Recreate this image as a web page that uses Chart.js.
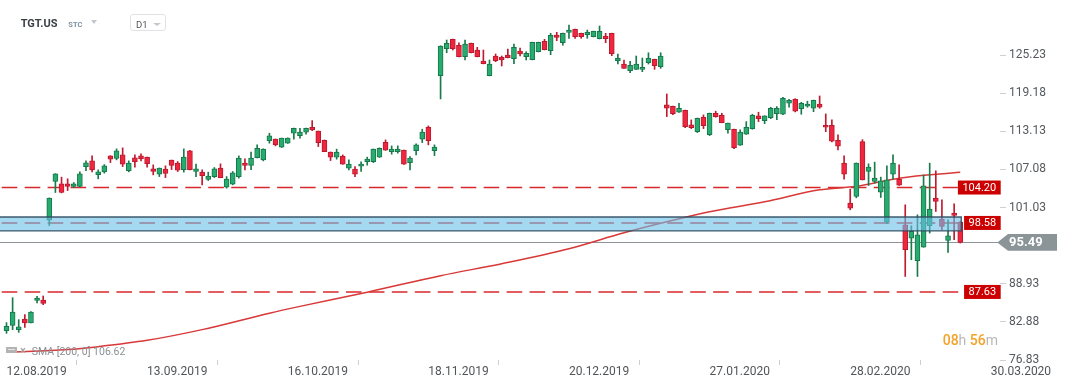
<!DOCTYPE html>
<html><head><meta charset="utf-8">
<script src="https://cdn.jsdelivr.net/npm/chart.js@4.4.1/dist/chart.umd.min.js"></script>
<style>
html,body{margin:0;padding:0;background:#fff;}
#wrap{position:relative;width:1069px;height:386px;overflow:hidden;font-family:Roboto,'Liberation Sans',sans-serif;}
#c{position:absolute;left:0;top:0;}
.t{position:absolute;white-space:nowrap;}
.sym{left:20.7px;top:17.9px;font-weight:bold;font-size:11px;line-height:11px;color:#3b4046;}
.stc{left:68.3px;top:20.7px;font-size:7.5px;line-height:7.5px;color:#7d91a5;font-weight:bold;}
.tri{position:absolute;width:0;height:0;border-left:3.5px solid transparent;border-right:3.5px solid transparent;border-top:4px solid #c5c8cb;}
.d1{position:absolute;left:130px;top:14px;width:36px;height:17px;border:1px solid #dfe2e5;border-radius:3px;box-sizing:border-box;}
.d1t{left:136px;top:19.5px;font-size:9.5px;line-height:9.5px;color:#555;}
.leg{left:31.7px;top:347px;font-size:10.5px;line-height:10.5px;color:#8b9094;}
.icon{position:absolute;left:6px;top:347px;width:11px;height:6px;background:#b3b3b3;}
.icon:after{content:'';position:absolute;left:2px;top:2px;width:7px;height:1px;background:#e8e8e8;}
.x{left:20px;top:345px;font-size:11px;line-height:11px;color:#a3a3a3;font-weight:bold;}
.timer{left:942.7px;top:333.2px;font-size:14px;line-height:14px;}
.timer .o{color:#f5a229;font-weight:500;}
.timer .g{color:#b8b8b8;}
</style></head>
<body>
<div id="wrap">
<canvas id="c" width="1069" height="386"></canvas>
<div class="t sym">TGT.US</div>
<div class="t stc">STC</div>
<div class="tri" style="left:90.7px;top:20px;"></div>
<div class="d1"></div>
<div class="t d1t">D1</div>
<div class="tri" style="left:152.7px;top:22.5px;border-left-width:4px;border-right-width:4px;border-top-width:3.5px;"></div>
<div class="icon"></div>
<div class="t x">×</div>
<div class="t leg" id="leg">SMA [200, 0] 106.62</div>
<div class="t timer"><span class="o">08</span><span class="g">h</span> <span class="o">56</span><span class="g">m</span></div>
</div>
<script>
const dateLabels = ['12.08.2019','13.09.2019','16.10.2019','18.11.2019','20.12.2019','27.01.2020','28.02.2020','30.03.2020'];
const tickIdx = [0,23,46,69,92,115,138,161];
const yTicks = [76.83,82.88,88.93,101.03,107.08,113.13,119.18,125.23];

const opens = [81.49,82.33,81.65,83.34,82.71,86.29,86.35,99.03,105.15,104.79,
104.79,104.36,104.36,107.53,108.43,106.26,106.69,109.22,108.80,109.38,
106.89,108.91,109.22,109.02,107.16,106.32,107.12,108.54,108.07,107.05,
110.02,106.74,106.64,105.47,105.94,107.27,104.26,104.74,105.94,108.07,
107.69,108.95,108.59,111.65,111.87,110.60,111.24,112.82,112.44,112.98,
113.77,113.14,111.71,109.81,109.02,109.18,107.27,107.12,107.59,108.32,
108.32,109.02,111.39,109.91,109.91,110.13,108.16,110.06,111.87,113.77,
110.06,121.95,126.23,127.72,126.77,124.96,127.08,126.02,124.28,121.95,
125.07,124.87,125.23,124.64,125.86,124.96,124.49,125.75,127.40,125.91,
128.40,127.18,128.83,129.30,128.67,128.45,128.13,127.81,128.24,128.67,
124.33,123.80,122.74,122.96,122.96,124.01,124.55,123.38,117.31,117.10,
116.15,116.47,114.14,113.07,115.36,112.60,115.99,115.67,113.39,113.45,
110.92,112.66,113.55,115.56,114.82,115.29,115.93,115.83,117.58,118.21,
116.72,117.10,116.78,117.46,114.09,114.09,111.71,108.07,101.73,102.77,
111.49,106.74,105.15,103.47,98.72,106.32,105.53,98.29,96.18,92.58,
94.75,98.13,102.52,99.19,95.80,100.14,98.72];
const highs = [82.76,86.72,83.23,84.03,84.50,86.92,86.99,102.55,106.40,105.85,
105.58,104.99,106.69,108.43,109.22,107.00,107.84,109.25,110.33,110.49,
108.43,109.38,109.54,109.05,107.80,107.30,107.64,108.56,108.32,110.33,
110.10,107.91,107.00,106.64,107.37,107.96,105.94,106.74,109.22,108.75,
109.81,110.97,110.35,112.82,111.90,112.05,112.08,113.65,113.61,113.65,
114.82,113.17,111.75,109.84,110.29,109.38,108.59,107.53,108.27,109.02,
110.32,110.50,111.76,110.81,110.81,110.16,109.12,111.13,113.45,113.98,
110.97,126.70,127.61,127.75,127.18,127.61,127.12,126.45,126.02,124.44,
125.39,125.07,126.18,126.97,126.34,125.75,127.27,127.27,127.72,128.67,
128.83,128.70,129.98,129.33,128.70,129.19,129.02,129.83,128.67,128.70,
125.39,124.44,124.23,125.07,124.75,125.59,124.58,125.59,119.05,117.13,
117.58,116.50,114.93,115.23,115.72,116.02,116.31,115.99,114.44,113.48,
113.34,114.66,115.83,116.15,115.59,116.94,117.04,118.53,118.21,118.30,
117.73,117.89,118.08,118.73,115.88,114.93,112.55,109.22,103.95,108.10,
111.80,107.96,108.23,105.85,107.64,109.38,107.80,101.46,98.13,99.87,
106.21,108.07,106.85,102.25,99.08,101.62,98.80];
const lows = [81.06,81.65,81.22,81.99,82.70,85.88,85.61,98.18,103.41,103.35,
103.72,104.20,104.30,106.89,106.69,105.58,106.48,108.16,108.59,107.53,
106.69,107.43,108.43,107.43,106.21,105.94,105.78,107.05,106.74,106.64,
107.00,105.94,104.63,105.31,105.78,105.75,104.10,104.63,105.69,107.00,
107.05,108.90,108.43,111.24,110.81,110.55,111.20,111.87,112.03,112.66,
113.23,110.70,109.88,108.48,108.70,107.88,107.00,105.94,106.74,107.75,
108.16,108.98,110.10,109.49,109.65,107.88,107.00,109.38,111.33,110.97,
109.27,118.26,125.59,126.02,124.93,124.44,125.55,124.93,123.82,121.92,
124.17,123.49,124.77,123.85,125.07,124.44,124.46,125.72,126.04,125.28,
127.50,126.81,127.88,127.88,127.88,127.88,128.10,127.78,127.18,125.12,
123.80,123.09,122.43,122.93,122.58,123.80,122.96,123.12,115.45,115.77,
116.12,113.71,113.55,112.92,113.55,112.44,115.36,114.47,112.82,110.38,
110.89,112.63,113.45,114.66,114.34,115.13,114.98,115.77,116.94,116.20,
115.83,116.94,116.24,116.78,113.07,111.44,110.17,105.53,100.67,102.57,
105.40,104.52,104.90,102.62,98.45,105.53,104.55,90.09,92.74,90.09,
94.72,96.97,100.40,97.50,93.90,95.91,95.39];
const closes = [82.17,84.45,82.08,82.71,84.45,86.67,85.82,102.52,106.37,103.41,
104.36,104.79,106.37,108.11,107.00,106.69,107.64,108.70,110.02,107.91,
108.07,108.32,108.75,108.00,106.74,107.27,106.42,107.69,106.96,109.02,
107.05,107.16,106.10,106.01,107.16,105.78,105.53,106.53,108.86,107.69,
108.86,110.44,110.29,112.39,110.97,112.03,112.03,113.61,112.98,113.61,
113.34,111.33,109.91,109.02,109.81,107.91,107.91,106.32,107.91,108.70,
110.29,110.44,110.13,110.29,110.29,107.91,108.86,110.97,112.98,111.65,
110.60,126.66,127.08,126.23,124.96,126.97,125.59,124.96,123.85,123.80,
124.33,124.44,124.80,126.45,125.39,125.50,127.24,127.24,126.07,128.35,
128.04,128.67,129.19,128.13,128.13,128.83,128.99,128.99,127.81,125.44,
124.71,123.12,123.60,123.80,123.28,124.71,123.53,125.07,116.78,115.93,
116.78,113.87,113.71,115.20,114.03,115.99,115.45,114.50,114.41,110.54,
112.98,113.77,115.67,115.13,115.56,116.78,116.78,118.37,118.05,116.31,
117.58,117.46,118.05,116.94,113.77,111.55,110.76,106.32,100.93,108.07,
105.42,107.43,105.69,105.26,105.42,108.07,104.58,94.33,97.23,96.70,
104.47,100.78,101.98,98.02,96.55,99.76,95.49];

const smaIdx = [0,10,15,23,32,43,48,59,71,81,92,101,108,115,124,133,139,146,156];
const smaVal = [78.05,78.48,78.95,79.95,81.65,84.26,85.34,87.59,90.21,92.11,94.49,97.02,98.76,100.35,101.93,103.83,104.39,105.69,106.62];

const levels = [104.20, 98.58, 87.63];
const band = [97.31, 99.52];
const lastPrice = 95.49;

const up = closes.map((c,i)=>c>=opens[i]);

function boxW(ctx, v){ ctx.font='11px Roboto'; return ctx.measureText(v.toFixed(2)).width+9; }

const overlay = {
  id:'overlay',
  beforeDatasetsDraw(chart){
    const {ctx, chartArea:a, scales:{y}} = chart;
    ctx.save();
    const py = Math.round(y.getPixelForValue(lastPrice))+0.5;
    ctx.strokeStyle='#8d9598'; ctx.lineWidth=1;
    ctx.beginPath(); ctx.moveTo(0,py); ctx.lineTo(a.right-2,py); ctx.stroke();
    levels.forEach(v=>{
      const yy = y.getPixelForValue(v);
      const end = a.right+0.7-boxW(ctx,v);
      ctx.setLineDash([15.6,7.35]); ctx.lineDashOffset=-1.7;
      ctx.strokeStyle='rgba(214,28,32,0.95)'; ctx.lineWidth=1.5;
      ctx.beginPath(); ctx.moveTo(0,yy); ctx.lineTo(end,yy); ctx.stroke();
    });
    ctx.restore();
  },
  afterDatasetsDraw(chart){
    const {ctx, scales:{x,y}} = chart;
    ctx.save();
    const t = y.getPixelForValue(band[1]), b = y.getPixelForValue(band[0]);
    const r = x.getPixelForValue(closes.length-1)+1;
    ctx.fillStyle='rgba(105,192,232,0.6)';
    ctx.fillRect(0,t,r,b-t);
    ctx.strokeStyle='rgba(45,72,92,0.9)'; ctx.lineWidth=1.3;
    ctx.beginPath(); ctx.moveTo(0,t); ctx.lineTo(r,t); ctx.lineTo(r,b); ctx.lineTo(0,b); ctx.stroke();
    ctx.restore();
  },
  afterDraw(chart){
    const {ctx, chartArea:a, scales:{y}} = chart;
    ctx.save();
    const R = a.right+0.7;
    levels.forEach(v=>{
      const w = boxW(ctx,v), yy = y.getPixelForValue(v);
      ctx.fillStyle='#cc0000'; ctx.fillRect(R-w, yy-7, w, 14);
      ctx.fillStyle='#fff'; ctx.textAlign='center'; ctx.textBaseline='middle';
      ctx.fillText(v.toFixed(2), R-w/2, yy+0.5);
    });
    const py = y.getPixelForValue(lastPrice);
    ctx.fillStyle='#8b9497';
    ctx.beginPath();
    ctx.moveTo(a.right-2.7,py); ctx.lineTo(a.right+8,py-8.4); ctx.lineTo(a.right+57,py-8.4);
    ctx.lineTo(a.right+57,py+8.4); ctx.lineTo(a.right+8,py+8.4); ctx.closePath(); ctx.fill();
    ctx.fillStyle='#fff'; ctx.font='bold 13px Roboto'; ctx.textAlign='left'; ctx.textBaseline='middle';
    ctx.fillText(lastPrice.toFixed(2), a.right+9, py+0.5);
    ctx.restore();
  }
};

new Chart(document.getElementById('c'), {
  type:'bar',
  data:{
    datasets:[
      {type:'bar', label:'body', data: opens.map((o,i)=>({x:i,y:[o,closes[i]]})),
       backgroundColor: up.map(u=>u?'#27ab6e':'#f0263f'),
       borderColor: up.map(u=>u?'#17764a':'#b8192e'),
       borderWidth:1, borderSkipped:false, barThickness:5, minBarLength:2, grouped:false, order:1},
      {type:'bar', label:'wick', data: lows.map((l,i)=>({x:i,y:[l,highs[i]]})),
       backgroundColor: up.map(u=>u?'#197a4b':'#c01a2f'),
       barThickness:1, grouped:false, order:2},
      {type:'line', label:'SMA', data: smaIdx.map((xv,k)=>({x:xv,y:smaVal[k]})),
       borderColor:'#d93838', borderWidth:1.5, pointRadius:0, cubicInterpolationMode:'monotone', order:3}
    ]
  },
  options:{
    responsive:false, devicePixelRatio:1, animation:false,
    layout:{padding:0},
    plugins:{legend:{display:false}, tooltip:{enabled:false}},
    scales:{
      x:{type:'linear', min:-1.063, max:162.5, offset:false, position:'bottom',
         grid:{display:true, drawOnChartArea:false, drawTicks:true, tickLength:5, color:'#cfcfcf'},
         border:{display:false},
         ticks:{autoSkip:false, maxRotation:0, minRotation:0, align:'start', padding:0, color:'#515558',
                font:{family:'Roboto', size:12},
                callback:(v)=>{const k=tickIdx.indexOf(v); return k<0?'':dateLabels[k];}},
         afterBuildTicks:s=>{s.ticks=tickIdx.map(v=>({value:v}));},
         afterFit:s=>{s.height=26; s.paddingLeft=0; s.paddingRight=0;}
      },
      y:{type:'linear', position:'right', min:76.83, max:133.96,
         grid:{display:true, drawOnChartArea:false, drawTicks:true, tickLength:6, color:'#d0d0d0'},
         border:{display:false},
         ticks:{padding:3, color:'#55595d', font:{family:'Roboto', size:12}, callback:v=>Number(v).toFixed(2)},
         afterBuildTicks:s=>{s.ticks=yTicks.map(v=>({value:v}));},
         afterFit:s=>{s.width=69; s.paddingTop=0; s.paddingBottom=0;}
      }
    }
  },
  plugins:[overlay]
});
</script>
</body></html>
